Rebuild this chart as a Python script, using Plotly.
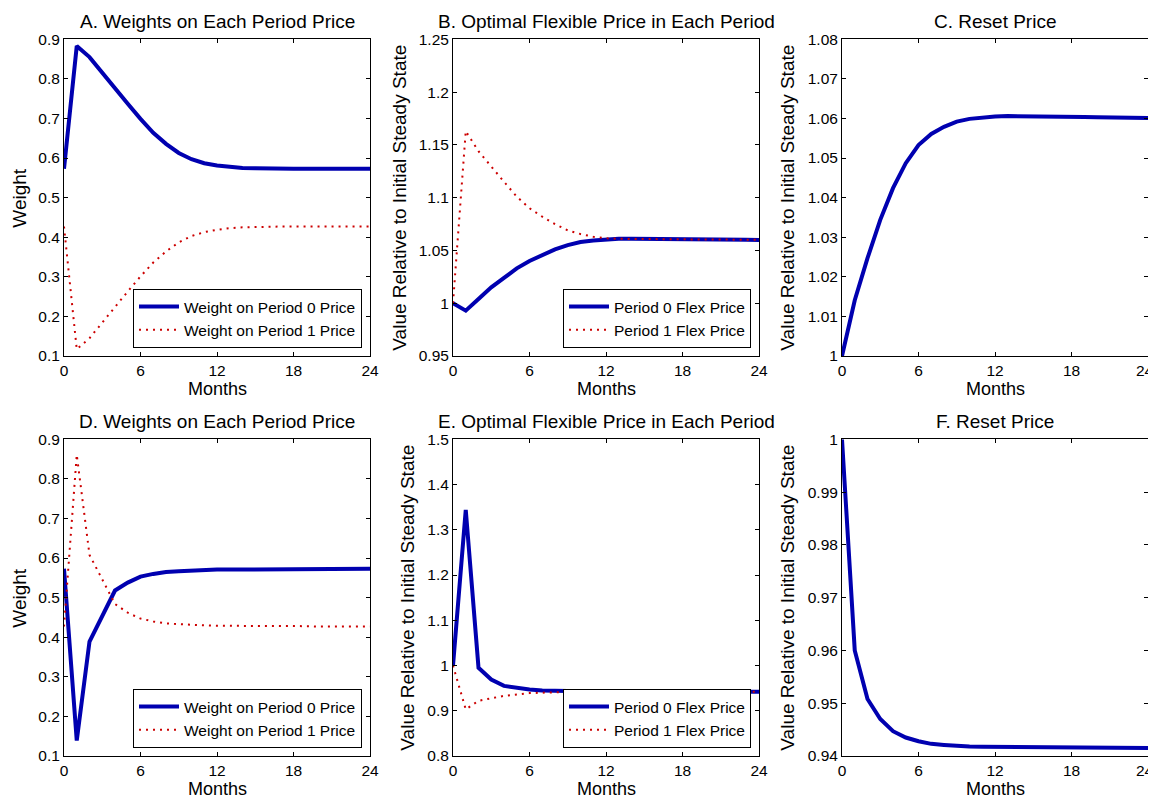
import plotly.graph_objects as go

months = list(range(25))

# Panel A: weights
a_w0 = [0.573, 0.883, 0.855, 0.815, 0.777, 0.737, 0.699, 0.664, 0.636, 0.613, 0.597, 0.587, 0.581, 0.577, 0.575, 0.574,
        0.573, 0.573, 0.573, 0.573, 0.573, 0.573, 0.573, 0.573, 0.573]
a_w1 = [0.427, 0.117, 0.145, 0.185, 0.223, 0.263, 0.301, 0.336, 0.364, 0.387, 0.403, 0.413, 0.419, 0.423, 0.425, 0.426,
        0.427, 0.427, 0.427, 0.427, 0.427, 0.427, 0.427, 0.427, 0.427]
# Panel B: flex prices
b_p0 = [1.0, 0.993, 1.004, 1.015, 1.024, 1.033, 1.040, 1.046, 1.051, 1.055, 1.058, 1.0595, 1.0605, 1.061, 1.061, 1.061,
        1.061, 1.0605, 1.0605, 1.0605, 1.0604, 1.0603, 1.0602, 1.0601, 1.060]
b_p1 = [1.0, 1.163, 1.144, 1.129, 1.115, 1.101, 1.090, 1.082, 1.075, 1.069, 1.0655, 1.063, 1.0615, 1.061, 1.0608, 1.0607,
        1.0606, 1.0605, 1.0605, 1.0604, 1.0604, 1.0603, 1.0602, 1.0601, 1.060]
# Panel C: reset price
c_reset = [1.0, 1.0141, 1.0247, 1.0344, 1.0424, 1.0487, 1.0533, 1.0561, 1.0579, 1.0592, 1.0599, 1.0603, 1.0605, 1.0606,
           1.0606, 1.0606, 1.0606, 1.0605, 1.0605, 1.0604, 1.0603, 1.0602, 1.0602, 1.0601, 1.0601]
# Panel D: weights
d_w0 = [0.573, 0.139, 0.389, 0.456, 0.518, 0.538, 0.553, 0.560, 0.565, 0.567, 0.569, 0.570, 0.571, 0.571, 0.571, 0.572,
        0.572, 0.572, 0.572, 0.572, 0.573, 0.573, 0.573, 0.573, 0.573]
d_w1 = [0.427, 0.861, 0.608, 0.544, 0.484, 0.462, 0.447, 0.440, 0.435, 0.433, 0.431, 0.430, 0.429, 0.429, 0.429, 0.428,
        0.428, 0.428, 0.428, 0.428, 0.427, 0.427, 0.427, 0.427, 0.427]
# Panel E: flex prices
e_p0 = [1.0, 1.344, 0.995, 0.969, 0.955, 0.950, 0.947, 0.945, 0.944, 0.943, 0.9425, 0.942, 0.942, 0.942, 0.942, 0.942,
        0.942, 0.942, 0.942, 0.942, 0.942, 0.942, 0.942, 0.942, 0.942]
e_p1 = [1.0, 0.903, 0.922, 0.927, 0.933, 0.936, 0.939, 0.940, 0.941, 0.9415, 0.942, 0.942, 0.942, 0.942, 0.942, 0.942,
        0.942, 0.942, 0.942, 0.942, 0.942, 0.942, 0.942, 0.942, 0.942]
# Panel F: reset price
f_reset = [1.0, 0.960, 0.9508, 0.9470, 0.9447, 0.9435, 0.9428, 0.9423, 0.9421, 0.9419, 0.9418, 0.94177, 0.94175, 0.94172,
           0.9417, 0.94168, 0.94165, 0.94163, 0.94161, 0.9416, 0.94158, 0.94156, 0.94155, 0.94153, 0.94152]

titles = ["A. Weights on Each Period Price", "B. Optimal Flexible Price in Each Period", "C. Reset Price",
          "D. Weights on Each Period Price", "E. Optimal Flexible Price in Each Period", "F. Reset Price"]
ylabels = ["Weight", "Value Relative to Initial Steady State", "Value Relative to Initial Steady State",
           "Weight", "Value Relative to Initial Steady State", "Value Relative to Initial Steady State"]
yranges = [(0.1, 0.9), (0.95, 1.25), (1.0, 1.08), (0.1, 0.9), (0.8, 1.5), (0.94, 1.0)]
ydticks = [0.1, 0.05, 0.01, 0.1, 0.1, 0.01]
x_ticks = [0, 6, 12, 18, 24]
x_ticklabels = ["0", "6", "12", "18", "24"]
weight_names = ["Weight on Period 0 Price", "Weight on Period 1 Price"]
flex_names = ["Period 0 Flex Price", "Period 1 Flex Price"]

BLUE = "#0000B0"
RED = "#CC0000"
FONT = "Liberation Sans, Arial, sans-serif"

# page body has an 8px margin; figure coordinates = screen pixels - 8
OFF = 8
W, H = 1156 - OFF, 798 - OFF
xdom_px = [(64, 370), (453, 759), (842, 1148)]
ydom_px = [(39.3, 356), (439.3, 756)]
ylab_x_px = [20, 400, 788, 20, 408, 788]


def px_x(p):
    return (p - OFF) / W


def px_y(p):
    return 1 - (p - OFF) / H


fig = go.Figure()

panels = [
    [(a_w0, weight_names[0]), (a_w1, weight_names[1])],
    [(b_p0, flex_names[0]), (b_p1, flex_names[1])],
    [(c_reset, None)],
    [(d_w0, weight_names[0]), (d_w1, weight_names[1])],
    [(e_p0, flex_names[0]), (e_p1, flex_names[1])],
    [(f_reset, None)],
]
legend_ids = {0: "legend", 1: "legend2", 3: "legend3", 4: "legend4"}

layout = dict(width=W, height=H, margin=dict(l=0, r=0, t=0, b=0, autoexpand=False),
              paper_bgcolor="white", plot_bgcolor="white",
              font=dict(family=FONT, color="black", size=15))
annotations = []

for i in range(6):
    row, col = divmod(i, 3)
    ax = "" if i == 0 else str(i + 1)
    x0, x1 = xdom_px[col]
    y0, y1 = ydom_px[row]
    xd = [px_x(x0), px_x(x1)]
    yd = [px_y(y1), px_y(y0)]
    # rightmost column: last tick label drawn separately so it stays inside the page
    ttext = list(x_ticklabels)
    if col == 2:
        ttext[-1] = ""
        annotations.append(dict(text=x_ticklabels[-1], x=1.0, y=px_y(y1 + 14), xref="paper", yref="paper",
                                xanchor="right", yanchor="middle", showarrow=False,
                                font=dict(size=15.5, color="black")))
    layout["xaxis" + ax] = dict(domain=xd, anchor="y" + ax, range=[0, 24], tickvals=x_ticks, ticktext=ttext,
                                showgrid=False, zeroline=False, showline=True, linecolor="black", linewidth=1,
                                mirror="ticks", ticks="inside", ticklen=4, tickcolor="black",
                                automargin=False, ticklabeloverflow="allow",
                                tickfont=dict(size=15.5))
    lo, hi = yranges[i]
    layout["yaxis" + ax] = dict(domain=yd, anchor="x" + ax, range=[lo, hi], tick0=lo, dtick=ydticks[i],
                                showgrid=False, zeroline=False, showline=True, linecolor="black", linewidth=1,
                                mirror="ticks", ticks="inside", ticklen=4, tickcolor="black",
                                automargin=False, ticklabeloverflow="allow",
                                tickfont=dict(size=15.5))
    cx = px_x((x0 + x1) / 2)
    # panel title
    annotations.append(dict(text=titles[i], x=cx, y=px_y(y0 - 18), xref="paper", yref="paper",
                            xanchor="center", yanchor="middle", showarrow=False,
                            font=dict(size=19, color="black")))
    # x-axis title
    annotations.append(dict(text="Months", x=cx, y=px_y(y1 + 32.5), xref="paper", yref="paper",
                            xanchor="center", yanchor="middle", showarrow=False,
                            font=dict(size=18, color="black")))
    # y-axis title
    annotations.append(dict(text=ylabels[i], x=px_x(ylab_x_px[i]), y=px_y((y0 + y1) / 2), xref="paper",
                            yref="paper", xanchor="center", yanchor="middle", textangle=-90, showarrow=False,
                            font=dict(size=19, color="black")))
    for j, (vals, name) in enumerate(panels[i]):
        if j == 0:
            line = dict(color=BLUE, width=4)
        else:
            line = dict(color=RED, width=2, dash="2px,5px")
        tr = dict(x=months, y=vals, mode="lines", line=line, xaxis="x" + ax, yaxis="y" + ax)
        if name is None:
            tr["showlegend"] = False
        else:
            tr["name"] = name
            tr["legend"] = legend_ids[i]
        fig.add_trace(go.Scatter(**tr))

legend_pos = {"legend": (362, 348), "legend2": (751, 348), "legend3": (362, 748), "legend4": (751, 748)}
for lid, (rx, by) in legend_pos.items():
    layout[lid] = dict(x=px_x(rx), y=px_y(by), xanchor="right", yanchor="bottom", bgcolor="white",
                       bordercolor="black", borderwidth=1, font=dict(size=15.5), tracegroupgap=0,
                       itemwidth=40)

layout["annotations"] = annotations
fig.update_layout(**layout)
fig.write_html("out.html")
